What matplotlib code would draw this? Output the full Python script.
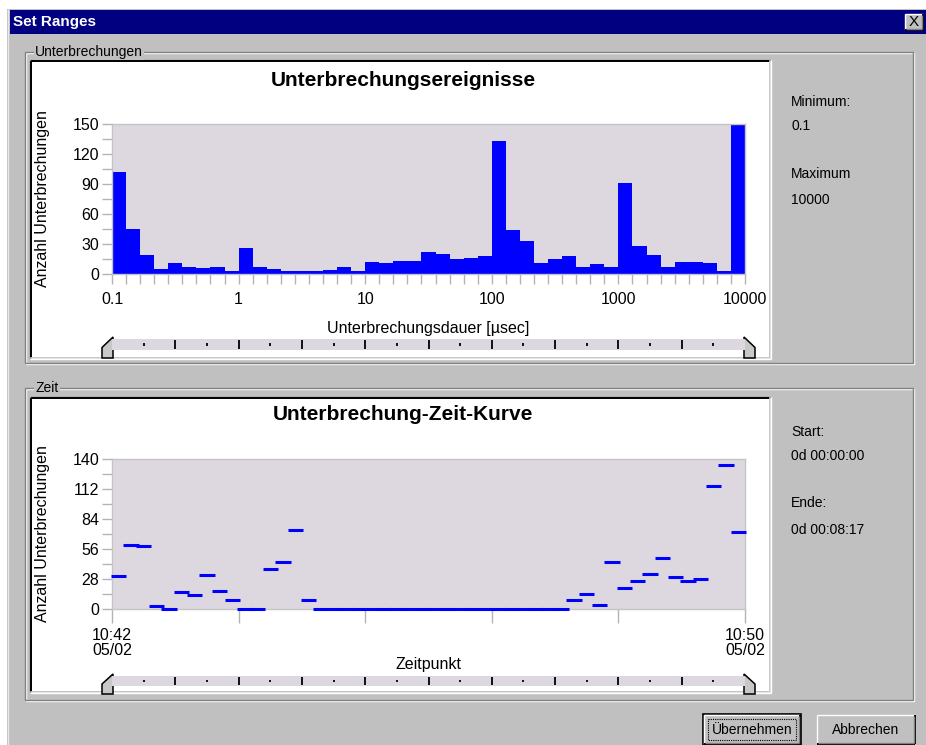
import matplotlib
matplotlib.use('Agg')
import matplotlib.pyplot as plt
import numpy as np
from matplotlib.patches import Rectangle, Polygon
from matplotlib.ticker import NullFormatter

plt.rcParams['font.family'] = ['Liberation Sans', 'DejaVu Sans']

# --- data ---
hist_counts = [102, 45, 19, 5, 11, 7, 6, 7, 3,
               26, 7, 5, 3, 3, 3, 4, 7, 3,
               12, 11, 13, 13, 22, 20, 15, 16, 18,
               133, 44, 33, 11, 15, 18, 7, 10, 7,
               91, 28, 19, 7, 12, 12, 11, 3, 150]
bins_per_decade = 9
hist_min, hist_max = 0.1, 10000
hist_ticks = [0.1, 1, 10, 100, 1000, 10000]
hist_ticklabels = ['0.1', '1', '10', '100', '1000', '10000']

time_counts = [31, 60, 59, 3, 0, 16, 13, 32, 17, 8,
               0, 0, 37, 44, 74, 8, 0, 0, 0, 0,
               0, 0, 0, 0, 0, 0, 0, 0, 0, 0,
               0, 0, 0, 0, 0, 0, 8, 14, 4, 44,
               20, 26, 33, 48, 30, 26, 28, 115, 134, 72]
time_ticks = [0, 10, 20, 30, 40, 50]
time_ticklabels = ['10:42\n05/02', '', '', '', '', '10:50\n05/02']

info_top = [('Minimum:', 102), ('0.1', 126), ('Maximum', 174), ('10000', 200)]
info_bottom = [('Start:', 432), ('0d 00:00:00', 456), ('Ende:', 503), ('0d 00:08:17', 530)]

W, H = 926, 745
GRAY = '#c0c0c0'
DARK = '#808080'
PLOTBG = '#ddd8e0'
BLUE = '#0000ff'
TICKC = '#b4b4b4'

fig = plt.figure(figsize=(W / 100, H / 100), dpi=100, facecolor='white')

# background axes in pixel coordinates (y downwards) for the dialog chrome
bg = fig.add_axes([0, 0, 1, 1])
bg.set_xlim(0, W)
bg.set_ylim(H, 0)
bg.axis('off')


def px_rect(x0, y0, x1, y1):
    return [x0 / W, 1 - y1 / H, (x1 - x0) / W, (y1 - y0) / H]


def line(x0, y0, x1, y1, c, lw=1.0):
    bg.plot([x0, x1], [y0, y1], color=c, lw=lw, solid_capstyle='butt')


def groupbox(x0, y0, x1, y1, label):
    bg.add_patch(Rectangle((x0 + 1, y0 + 1), x1 - x0, y1 - y0, fill=False, ec='white', lw=1))
    bg.add_patch(Rectangle((x0, y0), x1 - x0, y1 - y0, fill=False, ec=DARK, lw=1))
    bg.text(x0 + 10, y0, label, fontsize=10, va='center', ha='left',
            bbox=dict(fc=GRAY, ec='none', pad=1))


def sunken_panel(x0, y0, x1, y1):
    bg.add_patch(Rectangle((x0, y0), x1 - x0, y1 - y0, fc='white', ec='none'))
    line(x0 - 2, y0 - 2, x1 + 1, y0 - 2, DARK)
    line(x0 - 2, y0 - 2, x0 - 2, y1 + 1, DARK)
    line(x0 - 1, y0 - 1, x1, y0 - 1, 'black', 1.4)
    line(x0 - 1, y0 - 1, x0 - 1, y1, 'black', 1.4)
    line(x0 - 1, y1 + 1, x1 + 1, y1 + 1, '#dfdfdf')
    line(x1 + 1, y0 - 1, x1 + 1, y1 + 1, '#dfdfdf')
    line(x0 - 2, y1 + 2, x1 + 2, y1 + 2, 'white')
    line(x1 + 2, y0 - 2, x1 + 2, y1 + 2, 'white')


def button(x0, y0, x1, y1, label, default=False):
    bg.add_patch(Rectangle((x0, y0), x1 - x0, y1 - y0, fc=GRAY, ec='none'))
    line(x0, y0, x1, y0, 'white')
    line(x0, y0, x0, y1, 'white')
    line(x0, y1, x1, y1, 'black', 1.4)
    line(x1, y0, x1, y1, 'black', 1.4)
    line(x0 + 1, y1 - 1, x1 - 1, y1 - 1, DARK)
    line(x1 - 1, y0 + 1, x1 - 1, y1 - 1, DARK)
    if default:
        bg.add_patch(Rectangle((x0 - 1, y0 - 1), x1 - x0 + 2, y1 - y0 + 2, fill=False, ec='black', lw=1.2))
        bg.add_patch(Rectangle((x0 + 4, y0 + 4), x1 - x0 - 8, y1 - y0 - 8, fill=False,
                               ec='black', lw=0.8, ls=(0, (1, 1))))
    bg.text((x0 + x1) / 2, (y0 + y1) / 2, label, fontsize=10, ha='center', va='center')


def slider(y0, y1, x0=112, x1=745):
    sl = fig.add_axes(px_rect(x0, y0, x1, y1))
    sl.set_xlim(0, 10)
    sl.set_ylim(0, 1)
    sl.set_facecolor(PLOTBG)
    for s in sl.spines.values():
        s.set_visible(False)
    sl.set_xticks([])
    sl.set_yticks([])
    sl.vlines(np.arange(1, 10), 0.1, 0.9, color='black', lw=1.3)
    sl.vlines(np.arange(0.5, 10, 1), 0.38, 0.62, color='black', lw=1.3)
    # thumbs
    ty0, ty1 = y0 - 2, y1 + 8
    mid = ty0 + (ty1 - ty0) * 0.5
    bg.add_patch(Polygon([(x0 - 10, ty1), (x0 + 1, ty1), (x0 + 1, ty0), (x0 - 10, mid)],
                         closed=True, fc='#c8c8c8', ec='black', lw=1.1, zorder=5))
    bg.add_patch(Polygon([(x1 + 10, ty1), (x1 - 1, ty1), (x1 - 1, ty0), (x1 + 10, mid)],
                         closed=True, fc='#c8c8c8', ec='black', lw=1.1, zorder=5))


def style_axes(ax):
    ax.set_facecolor(PLOTBG)
    for s in ax.spines.values():
        s.set_color('#c4c4c4')
        s.set_linewidth(1)
    ax.tick_params(axis='both', which='both', color=TICKC, length=7, width=1,
                   labelsize=11.5, labelcolor='black', pad=2)


# dialog frame and title bar
bg.add_patch(Rectangle((7, 9), W - 7, H - 9, fc=GRAY, ec='none'))
line(8, 9, 8, H, '#e8e8e8')
bg.add_patch(Rectangle((10, 10), W - 10, 24, fc='#000080', ec='none'))
bg.text(13, 22, 'Set Ranges', color='white', fontsize=11, weight='bold', va='center', ha='left')
button(905, 14, 923, 30, '')
bg.text(914, 22, 'X', fontsize=11, ha='center', va='center')

groupbox(25, 52, 913, 363, 'Unterbrechungen')
groupbox(25, 388, 913, 700, 'Zeit')
sunken_panel(32, 62, 769, 357)
sunken_panel(32, 399, 769, 691)

button(704, 715, 800, 744, 'Übernehmen', default=True)
button(817, 715, 915, 744, 'Abbrechen')

for txt, y in info_top + info_bottom:
    bg.text(791, y, txt, fontsize=10, ha='left', va='center')

# --- top chart: histogram on log scale ---
ax1 = fig.add_axes(px_rect(112, 124, 745, 274))
edges = hist_min * 10 ** (np.arange(len(hist_counts) + 1) / bins_per_decade)
ax1.bar(edges[:-1], hist_counts, width=np.diff(edges), align='edge', color=BLUE, lw=0)
ax1.set_xscale('log')
ax1.set_xlim(hist_min, hist_max)
ax1.set_ylim(0, 150)
ax1.set_xticks(hist_ticks)
ax1.set_xticklabels(hist_ticklabels)
ax1.set_xticks(edges, minor=True)
ax1.xaxis.set_minor_formatter(NullFormatter())
ax1.set_yticks(np.arange(0, 151, 30))
ax1.set_yticks(np.arange(15, 150, 30), minor=True)
style_axes(ax1)
ax1.tick_params(axis='x', pad=6)

bg.text(403, 80, 'Unterbrechungsereignisse', fontsize=15, weight='bold', ha='center', va='center')
bg.text(43, 199, 'Anzahl Unterbrechungen', fontsize=11.5, rotation=90, ha='center', va='center')
bg.text(428, 328, 'Unterbrechungsdauer [µsec]', fontsize=11.5, ha='center', va='center')
slider(339, 350)

# --- bottom chart: counts per time slot ---
ax2 = fig.add_axes(px_rect(112, 459, 745, 609))
x = np.arange(len(time_counts))
ax2.hlines(time_counts, x - 0.1, x + 1.1, color=BLUE, lw=2.2, clip_on=False, zorder=3)
ax2.set_xlim(0, len(time_counts))
ax2.set_ylim(0, 140)
ax2.set_xticks(time_ticks)
ax2.set_xticklabels(time_ticklabels, linespacing=1.0)
ax2.set_yticks(np.arange(0, 141, 28))
ax2.set_yticks(np.arange(14, 140, 28), minor=True)
style_axes(ax2)
ax2.tick_params(axis='x', length=10, pad=4)

bg.text(403, 415, 'Unterbrechung-Zeit-Kurve', fontsize=15, weight='bold', ha='center', va='center')
bg.text(43, 534, 'Anzahl Unterbrechungen', fontsize=11.5, rotation=90, ha='center', va='center')
bg.text(428, 665, 'Zeitpunkt', fontsize=11.5, ha='center', va='center')
slider(676, 686)

fig.savefig('out.png', dpi=100, facecolor='white')
